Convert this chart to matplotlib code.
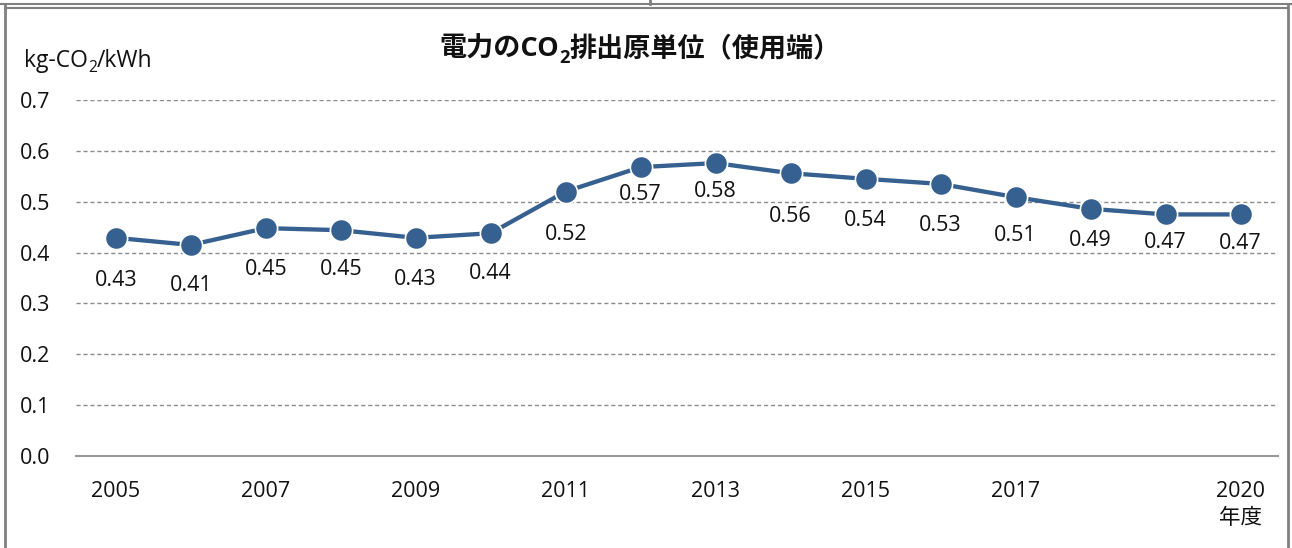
import matplotlib
matplotlib.use("Agg")
import matplotlib.pyplot as plt
from matplotlib.lines import Line2D

FONT = ['Open Sans', 'Noto Sans CJK JP', 'DejaVu Sans']
plt.rcParams['font.family'] = FONT

years = [2005, 2006, 2007, 2008, 2009, 2010, 2011, 2012, 2013, 2014, 2015, 2016, 2017, 2018, 2019, 2020]
values = [0.429, 0.415, 0.448, 0.444, 0.429, 0.438, 0.520, 0.568, 0.576, 0.556, 0.545, 0.535, 0.509, 0.486, 0.475, 0.475]
labels = ["0.43", "0.41", "0.45", "0.45", "0.43", "0.44", "0.52", "0.57", "0.58", "0.56", "0.54", "0.53", "0.51", "0.49", "0.47", "0.47"]
# vertical offset of each data label below its marker (pixels)
label_dy = [43, 41, 41, 39, 42, 40, 43, 27, 28, 43, 42, 42, 38, 32, 28, 29]
xticks = [2005, 2007, 2009, 2011, 2013, 2015, 2017, 2020]
xticklabels = ["2005", "2007", "2009", "2011", "2013", "2015", "2017", "2020\n年度"]
yticks = [0.0, 0.1, 0.2, 0.3, 0.4, 0.5, 0.6, 0.7]

W, H = 1292, 548
fig = plt.figure(figsize=(W / 100, H / 100), dpi=100)
ax = fig.add_axes([76 / W, 1 - 456 / H, (1278 - 76) / W, (456 - 100) / H])

TXT = '#111111'
color = '#36608F'
ax.plot(years, values, color=color, lw=3.1, marker='o', ms=16,
        markeredgecolor='white', markeredgewidth=1.2, zorder=3)
for x, y, t, d in zip(years, values, labels, label_dy):
    ax.annotate(t, (x, y), xytext=(0, -d * 0.72), textcoords='offset points',
                ha='center', va='center', fontsize=15.5, color=TXT)

ax.set_xlim(2004.47, 2020.5)
ax.set_ylim(0, 0.7)
ax.set_yticks(yticks)
ax.set_yticklabels([f"{v:.1f}" for v in yticks])
ax.set_xticks(xticks)
ax.set_xticklabels(xticklabels, linespacing=1.4)
ax.tick_params(axis='both', length=0, labelsize=15.5, colors=TXT)
ax.tick_params(axis='x', pad=18)
for lab in ax.get_yticklabels():
    lab.set_horizontalalignment('left')
ax.tick_params(axis='y', pad=40.5)

for s in ['top', 'right', 'left']:
    ax.spines[s].set_visible(False)
ax.spines['bottom'].set_color('#999999')
ax.spines['bottom'].set_linewidth(1.5)
for v in yticks[1:]:
    ax.axhline(v, color='#8c8c8c', lw=1, ls=(0, (3, 2)), zorder=1)


def rich_text(pieces, x, y, ha='center', size=15, weight='normal'):
    """Draw a sequence of (text, scale, dy_fraction) pieces in a row."""
    fig.canvas.draw()
    r = fig.canvas.get_renderer()
    arts = []
    for txt, sc, dy in pieces:
        t = fig.text(0, 0, txt, fontsize=size * sc, fontweight=weight, color=TXT,
                     ha='left', va='baseline')
        arts.append((t, dy))
    widths = [a.get_window_extent(r).width for a, _ in arts]
    total = sum(widths)
    x0 = x * W - (total / 2 if ha == 'center' else 0)
    for (a, dy), w in zip(arts, widths):
        a.set_position((x0 / W, (y * H - dy * size * 1.389) / H))
        x0 += w


rich_text([("電力のCO", 1, 0), ("2", 0.68, 0.22), ("排出原単位（使用端）", 1, 0)],
          0.4955, 1 - 57 / H, size=19.5, weight='bold')
rich_text([("kg-CO", 1, 0), ("2", 0.68, 0.2), ("/kWh", 1, 0)],
          24 / W, 1 - 67 / H, ha='left', size=16.5)

# frame
fc = '#808080'
fig.add_artist(Line2D([5 / W, 5 / W], [0, 1 - 4 / H], color=fc, lw=2))
fig.add_artist(Line2D([1288 / W, 1288 / W], [0, 1 - 4 / H], color=fc, lw=2))
fig.add_artist(Line2D([0, 1], [1 - 4 / H, 1 - 4 / H], color=fc, lw=1.5))
fig.add_artist(Line2D([5 / W, 1288 / W], [1 - 7.5 / H, 1 - 7.5 / H], color=fc, lw=1.5))
fig.add_artist(Line2D([650 / W, 650 / W], [1 - 4 / H, 1], color=fc, lw=2))

fig.savefig("out.png", dpi=100)
